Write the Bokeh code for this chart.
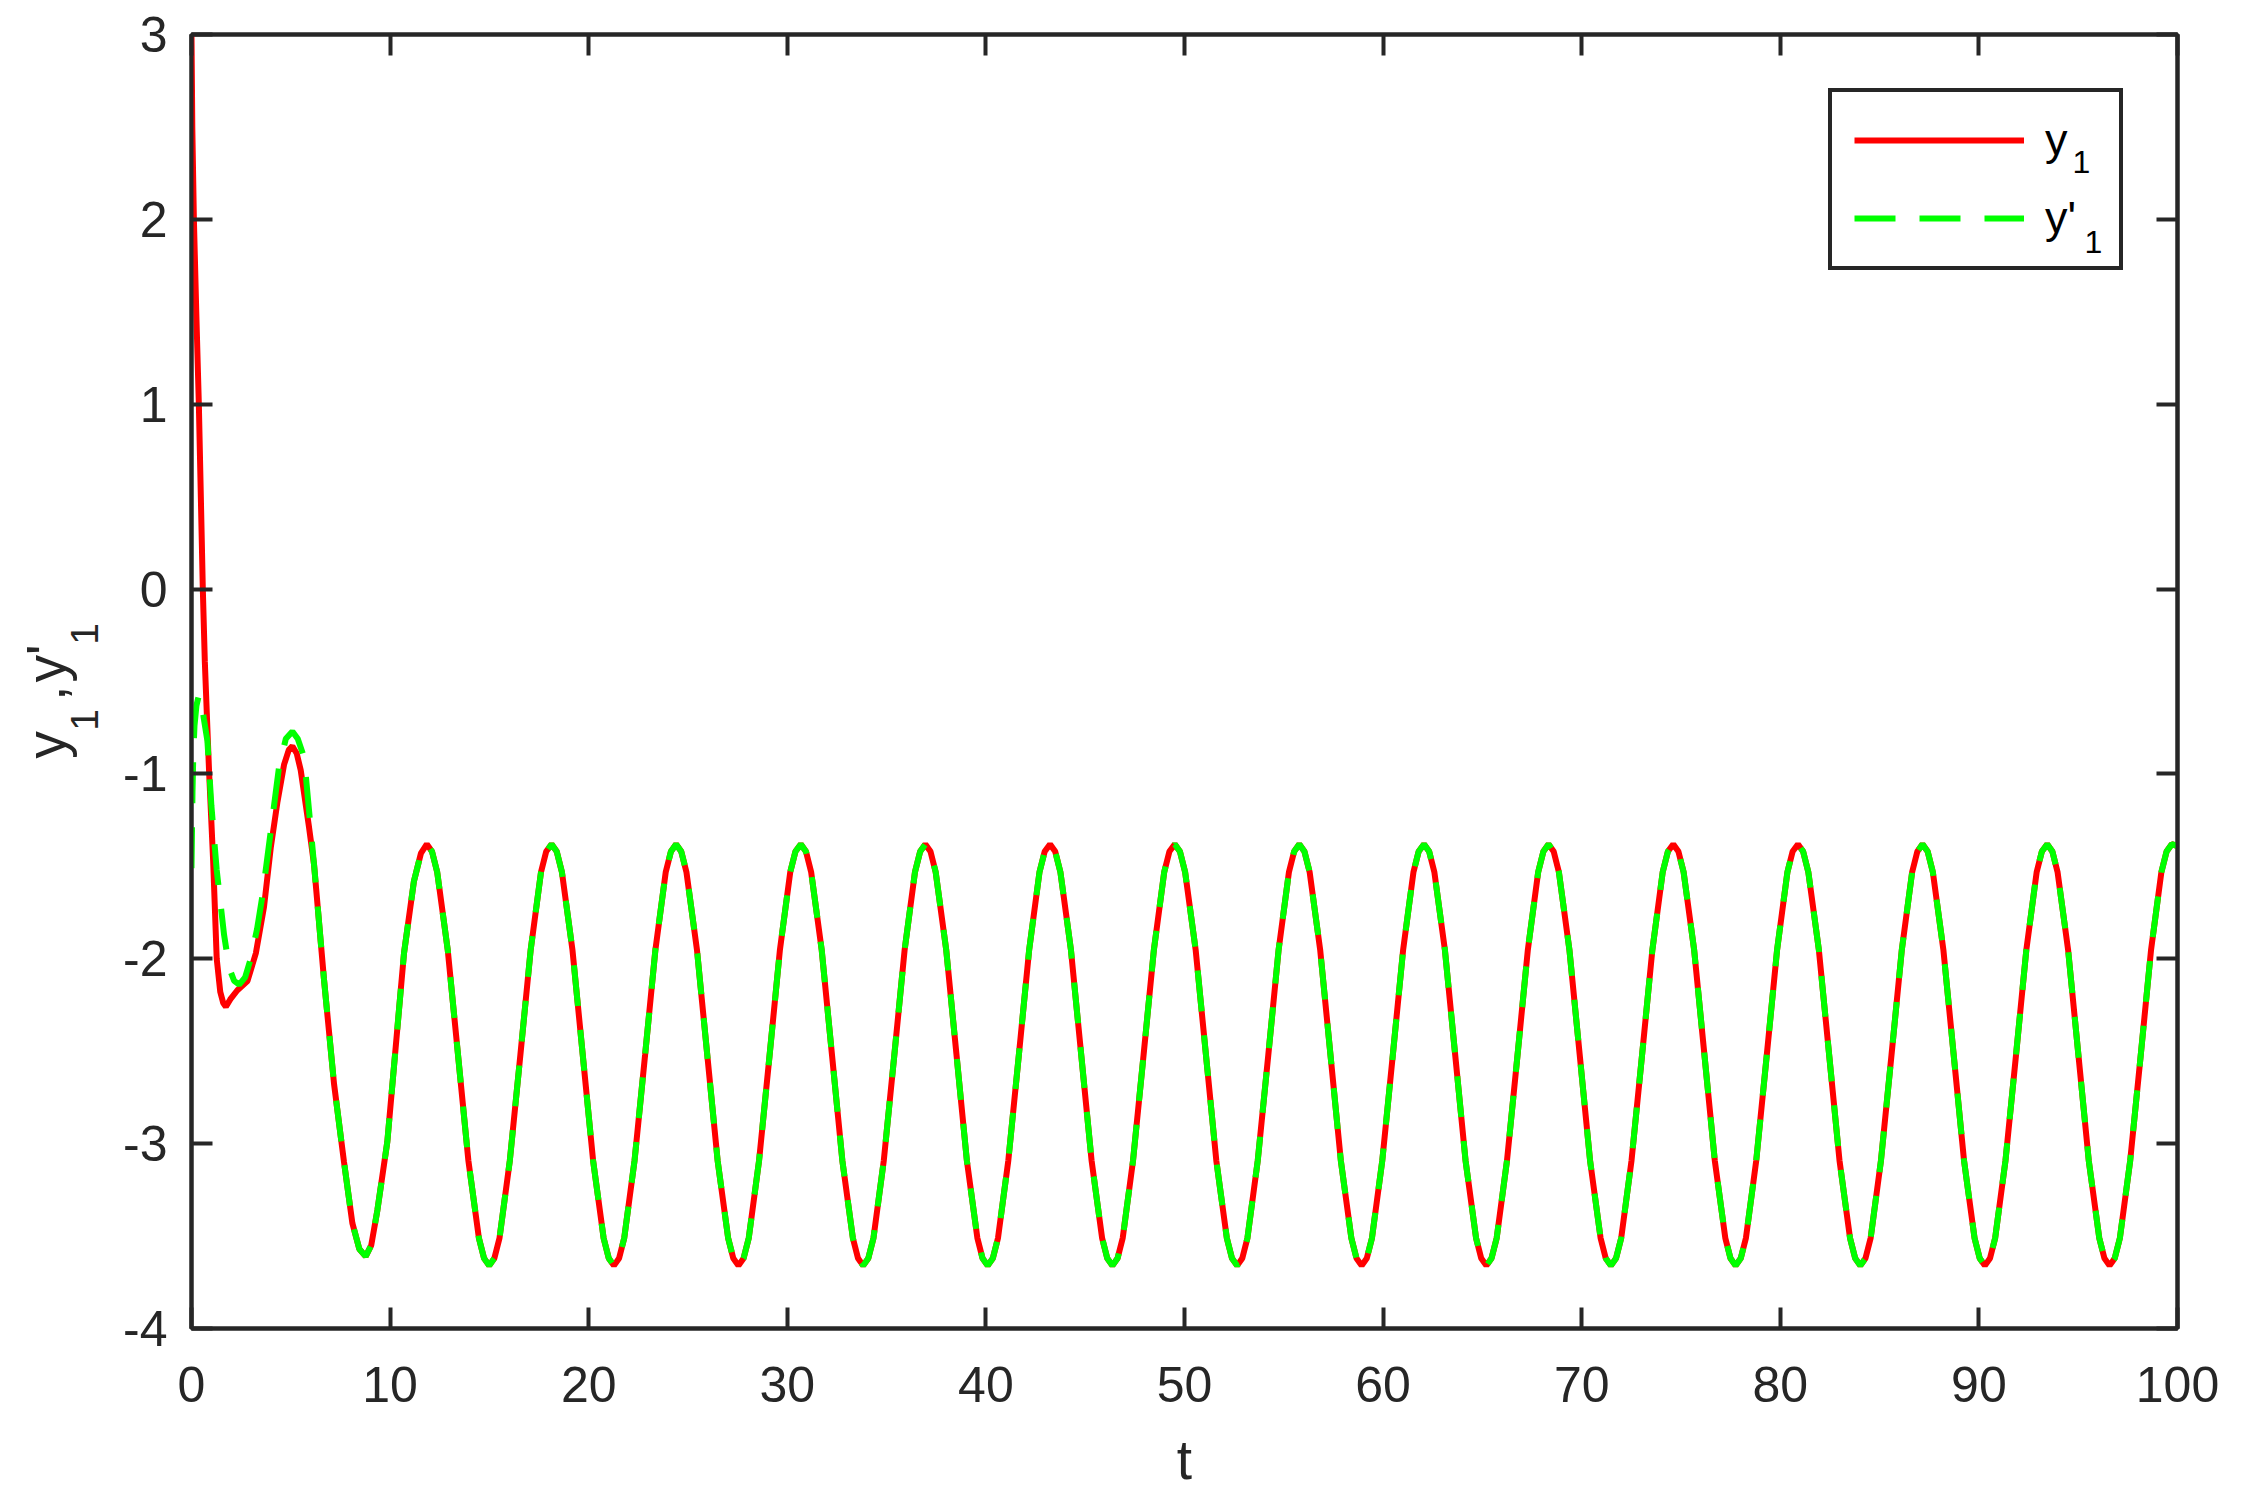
from math import pi
from bokeh.plotting import figure
from bokeh.models import (Range1d, FixedTicker, LinearAxis, Legend, LegendItem,
                          CustomJSTickFormatter)
from bokeh.core.properties import value
from bokeh.embed import file_html
from bokeh.resources import INLINE

# ---------------- data ----------------
# transient of y1 (red, solid)
t_y1_start = [0.00, 0.04, 0.12, 0.24, 0.37, 0.47, 0.57, 0.67, 0.78, 0.89, 1.09, 1.27,
              1.45, 1.60, 1.73, 1.95, 2.31, 2.82, 3.24, 3.65, 3.99, 4.33, 4.66, 4.90,
              5.08, 5.30, 5.50, 5.92]
y1_start = [3.00, 2.50, 2.00, 1.50, 1.00, 0.50, 0.00, -0.39, -0.70, -1.00, -1.47, -2.00,
            -2.18, -2.24, -2.26, -2.22, -2.17, -2.12, -1.97, -1.72, -1.40, -1.15, -0.95, -0.87,
            -0.85, -0.89, -0.98, -1.29]

# transient of y'1 (green, dashed)
t_y1p_start = [0.00, 0.02, 0.05, 0.09, 0.15, 0.25, 0.38, 0.50, 0.62, 0.80, 1.00, 1.27,
               1.64, 1.90, 2.15, 2.40, 2.70, 2.98, 3.30, 3.57, 3.99, 4.41, 4.75, 5.08,
               5.35, 5.67, 5.92]
y1p_start = [-1.51, -1.35, -1.10, -0.90, -0.74, -0.63, -0.57, -0.61, -0.70, -0.82, -1.17, -1.52,
             -1.87, -2.05, -2.12, -2.14, -2.10, -2.00, -1.84, -1.66, -1.31, -0.96, -0.81, -0.77,
             -0.81, -0.91, -1.20]

# after t ~ 6 both curves coincide
t_settle = [6.17, 6.67, 7.18, 7.68, 8.10, 8.45, 8.77, 9.05, 9.36, 9.86, 10.28, 10.70, 11.20, 11.55]
y_settle = [-1.49, -2.11, -2.68, -3.10, -3.43, -3.57, -3.61, -3.55, -3.36, -2.99, -2.48, -1.97, -1.58, -1.43]

t_steady = [
    11.85, 12.11, 12.37, 12.90, 13.42, 13.94, 14.47, 14.73, 14.99, 15.25, 15.51, 16.03, 16.56, 17.08, 17.60, 17.86,
    18.13, 18.39, 18.65, 19.18, 19.70, 20.22, 20.75, 21.01, 21.27, 21.53, 21.79, 22.31, 22.84, 23.36, 23.88, 24.14,
    24.40, 24.66, 24.92, 25.45, 25.97, 26.49, 27.02, 27.28, 27.54, 27.80, 28.06, 28.58, 29.11, 29.63, 30.15, 30.41,
    30.68, 30.94, 31.20, 31.73, 32.25, 32.77, 33.30, 33.56, 33.82, 34.08, 34.34, 34.86, 35.39, 35.91, 36.43, 36.69,
    36.95, 37.21, 37.47, 38.00, 38.52, 39.04, 39.57, 39.83, 40.09, 40.35, 40.61, 41.13, 41.66, 42.18, 42.70, 42.96,
    43.23, 43.49, 43.75, 44.28, 44.80, 45.32, 45.85, 46.11, 46.37, 46.63, 46.89, 47.41, 47.94, 48.46, 48.98, 49.24,
    49.51, 49.77, 50.03, 50.56, 51.08, 51.60, 52.13, 52.39, 52.65, 52.91, 53.17, 53.69, 54.22, 54.74, 55.26, 55.52,
    55.78, 56.04, 56.30, 56.83, 57.35, 57.87, 58.40, 58.66, 58.92, 59.18, 59.44, 59.96, 60.49, 61.01, 61.53, 61.79,
    62.06, 62.32, 62.58, 63.11, 63.63, 64.15, 64.68, 64.94, 65.20, 65.46, 65.72, 66.24, 66.77, 67.29, 67.81, 68.07,
    68.33, 68.59, 68.85, 69.38, 69.90, 70.42, 70.95, 71.21, 71.47, 71.73, 71.99, 72.51, 73.04, 73.56, 74.08, 74.34,
    74.61, 74.87, 75.13, 75.66, 76.18, 76.70, 77.23, 77.49, 77.75, 78.01, 78.27, 78.79, 79.32, 79.84, 80.36, 80.62,
    80.89, 81.15, 81.41, 81.94, 82.46, 82.98, 83.51, 83.77, 84.03, 84.29, 84.55, 85.07, 85.60, 86.12, 86.64, 86.90,
    87.16, 87.42, 87.68, 88.21, 88.73, 89.25, 89.78, 90.04, 90.30, 90.56, 90.82, 91.34, 91.87, 92.39, 92.91, 93.17,
    93.44, 93.70, 93.96, 94.49, 95.01, 95.53, 96.06, 96.32, 96.58, 96.84, 97.10, 97.62, 98.15, 98.67, 99.19, 99.45,
    99.71, 100.00]
y_steady = [
    -1.38, -1.42, -1.53, -1.95, -2.52, -3.09, -3.51, -3.62, -3.66, -3.62, -3.51, -3.09, -2.52, -1.95, -1.53, -1.42,
    -1.38, -1.42, -1.53, -1.95, -2.52, -3.09, -3.51, -3.62, -3.66, -3.62, -3.51, -3.09, -2.52, -1.95, -1.53, -1.42,
    -1.38, -1.42, -1.53, -1.95, -2.52, -3.09, -3.51, -3.62, -3.66, -3.62, -3.51, -3.09, -2.52, -1.95, -1.53, -1.42,
    -1.38, -1.42, -1.53, -1.95, -2.52, -3.09, -3.51, -3.62, -3.66, -3.62, -3.51, -3.09, -2.52, -1.95, -1.53, -1.42,
    -1.38, -1.42, -1.53, -1.95, -2.52, -3.09, -3.51, -3.62, -3.66, -3.62, -3.51, -3.09, -2.52, -1.95, -1.53, -1.42,
    -1.38, -1.42, -1.53, -1.95, -2.52, -3.09, -3.51, -3.62, -3.66, -3.62, -3.51, -3.09, -2.52, -1.95, -1.53, -1.42,
    -1.38, -1.42, -1.53, -1.95, -2.52, -3.09, -3.51, -3.62, -3.66, -3.62, -3.51, -3.09, -2.52, -1.95, -1.53, -1.42,
    -1.38, -1.42, -1.53, -1.95, -2.52, -3.09, -3.51, -3.62, -3.66, -3.62, -3.51, -3.09, -2.52, -1.95, -1.53, -1.42,
    -1.38, -1.42, -1.53, -1.95, -2.52, -3.09, -3.51, -3.62, -3.66, -3.62, -3.51, -3.09, -2.52, -1.95, -1.53, -1.42,
    -1.38, -1.42, -1.53, -1.95, -2.52, -3.09, -3.51, -3.62, -3.66, -3.62, -3.51, -3.09, -2.52, -1.95, -1.53, -1.42,
    -1.38, -1.42, -1.53, -1.95, -2.52, -3.09, -3.51, -3.62, -3.66, -3.62, -3.51, -3.09, -2.52, -1.95, -1.53, -1.42,
    -1.38, -1.42, -1.53, -1.95, -2.52, -3.09, -3.51, -3.62, -3.66, -3.62, -3.51, -3.09, -2.52, -1.95, -1.53, -1.42,
    -1.38, -1.42, -1.53, -1.95, -2.52, -3.09, -3.51, -3.62, -3.66, -3.62, -3.51, -3.09, -2.52, -1.95, -1.53, -1.42,
    -1.38, -1.42, -1.53, -1.95, -2.52, -3.09, -3.51, -3.62, -3.66, -3.62, -3.51, -3.09, -2.52, -1.95, -1.53, -1.42,
    -1.38, -1.39]

x_ticks = [0, 10, 20, 30, 40, 50, 60, 70, 80, 90, 100]
y_ticks = [-4, -3, -2, -1, 0, 1, 2, 3]
x_label = "t"
legend_labels = ["y", "y'"]

# ---------------- figure ----------------
FONT = "Liberation Sans"
AX = "#262626"

p = figure(width=2240, height=1500, output_backend="svg", toolbar_location=None,
           title=None, x_range=Range1d(0, 100), y_range=Range1d(-4, 3),
           min_border_left=191, min_border_right=63, min_border_top=34, min_border_bottom=172,
           x_axis_location="below", y_axis_location="left")
p.background_fill_color = "white"
p.border_fill_color = "white"
p.xgrid.visible = False
p.ygrid.visible = False
p.outline_line_color = AX
p.outline_line_width = 4


def style_axis(ax, ticks, show_labels):
    ax.ticker = FixedTicker(ticks=ticks)
    ax.minor_tick_line_color = None
    ax.major_tick_in = 21
    ax.major_tick_out = 0
    ax.major_tick_line_width = 4
    ax.major_tick_line_color = AX
    ax.axis_line_width = 4
    ax.axis_line_color = AX
    ax.major_label_text_font = FONT
    ax.major_label_text_font_size = "50px"
    ax.major_label_text_color = AX
    if show_labels:
        ax.major_label_overrides = {v: str(v) for v in ticks}
    else:
        ax.formatter = CustomJSTickFormatter(code="return ''")
        ax.major_label_text_font_size = "1px"


style_axis(p.xaxis[0], x_ticks, True)
style_axis(p.yaxis[0], y_ticks, True)
p.xaxis[0].major_label_standoff = 38
p.yaxis[0].major_label_standoff = 24
p.xaxis[0].axis_label = x_label
p.xaxis[0].axis_label_text_font = FONT
p.xaxis[0].axis_label_text_font_size = "55px"
p.xaxis[0].axis_label_text_font_style = "normal"
p.xaxis[0].axis_label_text_color = AX
p.xaxis[0].axis_label_standoff = 24

top_axis = LinearAxis()
style_axis(top_axis, x_ticks, False)
p.add_layout(top_axis, "above")
right_axis = LinearAxis()
style_axis(right_axis, y_ticks, False)
p.add_layout(right_axis, "right")

# ---------------- series ----------------
t_y1 = t_y1_start + t_settle + t_steady
v_y1 = y1_start + y_settle + y_steady
t_y1p = t_y1p_start + t_settle + t_steady
v_y1p = y1p_start + y_settle + y_steady

r_red = p.line(t_y1, v_y1, line_color="#FF0000", line_width=6)
r_green = p.line(t_y1p, v_y1p, line_color="#00FF00", line_width=6, line_dash="41 24")

# legend box is see-through (nothing of the curves lies beneath it) so the
# subscript digits drawn in the plot show inside it
legend = Legend(items=[LegendItem(label=legend_labels[0], renderers=[r_red]),
                       LegendItem(label=legend_labels[1], renderers=[r_green])],
                location="top_right", margin=54, padding=22, spacing=26,
                glyph_width=170, glyph_height=40, label_width=52, label_height=40,
                label_standoff=21,
                label_text_font=FONT, label_text_font_size="45px", label_text_color="black",
                border_line_color=AX, border_line_width=4, border_line_alpha=1.0,
                background_fill_color="white", background_fill_alpha=0.0)
p.add_layout(legend)

# subscripts of the legend entries
leg_sub = p.text(x=[94.71, 95.32], y=[2.308, 1.880], text=["1", "1"],
                 text_font=value(FONT), text_font_size="32px", text_color="black",
                 text_baseline="middle", text_align="left", level="overlay")

# rotated y-axis label  y_1,y'_1  (main glyphs and lowered subscripts)
ylab_main = p.text(x=[-7.33, -7.33, -7.33], y=[-0.918, -0.604, -0.506], text=["y", ",", "y'"],
                   angle=pi / 2, text_font=value(FONT), text_font_size="55px", text_color=AX,
                   text_baseline="middle", text_align="left", level="overlay")
ylab_sub = p.text(x=[-5.41, -5.41], y=[-0.766, -0.301], text=["1", "1"],
                  angle=pi / 2, text_font=value(FONT), text_font_size="39px", text_color=AX,
                  text_baseline="middle", text_align="left", level="overlay")

open("out.html", "w").write(file_html(p, INLINE))
